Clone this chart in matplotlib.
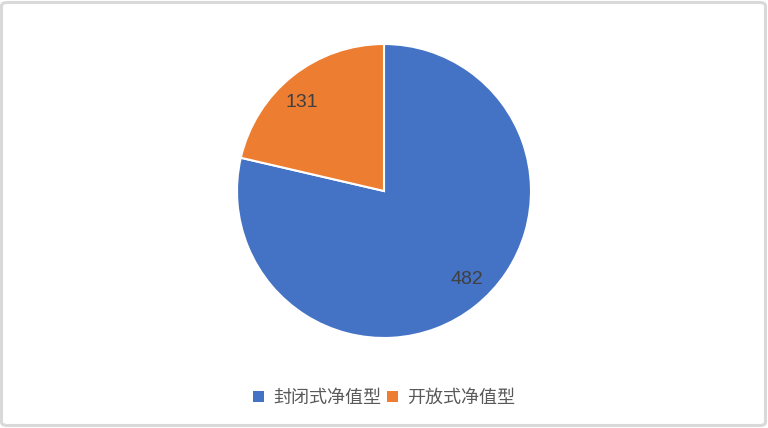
import matplotlib
matplotlib.use("Agg")
import matplotlib.pyplot as plt
import numpy as np
from matplotlib.patches import FancyBboxPatch

plt.rcParams['font.family'] = ['Noto Sans CJK SC', 'DejaVu Sans']

categories = ['封闭式净值型', '开放式净值型']
values = [482, 131]
colors = ['#4472C4', '#ED7D31']

W, H = 768, 428
fig = plt.figure(figsize=(W / 100, H / 100), dpi=100)
fig.patch.set_facecolor('white')

# border
fig.add_artist(FancyBboxPatch((1.5 / W, 2.5 / H), (W - 4) / W, (H - 5) / H,
                              boxstyle='round,pad=0,rounding_size=0.008',
                              transform=fig.transFigure, facecolor='none',
                              edgecolor='#d9d9d9', linewidth=2.2))

cx, cy, r = 384, 191, 147
ax = fig.add_axes([(cx - r) / W, (H - cy - r) / H, 2 * r / W, 2 * r / H])
wedges, texts = ax.pie(
    values, colors=colors, startangle=90, counterclock=False,
    wedgeprops=dict(edgecolor='white', linewidth=1.5), radius=1.0)
for w, v in zip(wedges, values):
    ang = np.deg2rad((w.theta1 + w.theta2) / 2 + 4)
    ax.text(0.83 * np.cos(ang), 0.82 * np.sin(ang), f"{v}", ha='center', va='center',
            fontsize=14, color='#404040', family=['Liberation Sans', 'DejaVu Sans'])
ax.set_xlim(-1, 1)
ax.set_ylim(-1, 1)
ax.set_aspect('equal')
ax.axis('off')

leg = fig.legend(wedges, categories, loc='center', bbox_to_anchor=(384 / W, 1 - 398 / H),
                 ncol=2, frameon=False, fontsize=13, handlelength=0.6, handleheight=0.6,
                 handletextpad=0.5, columnspacing=0.3, labelcolor='#595959')
for h in leg.legend_handles:
    h.set_edgecolor('none')

fig.savefig('out.png', dpi=100, facecolor='white')
